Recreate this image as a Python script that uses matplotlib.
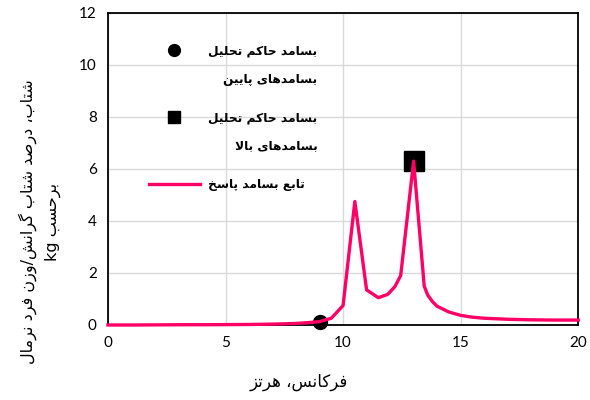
import re
import matplotlib
matplotlib.use("Agg")
import matplotlib.pyplot as plt
from matplotlib.lines import Line2D
from matplotlib.legend_handler import HandlerLine2D

# --- data ---
freq = [0, 1, 2, 3, 4, 5, 6, 7, 7.5, 8, 8.5, 9, 9.5, 10, 10.5, 11, 11.5, 11.9,
        12.2, 12.45, 13, 13.45, 13.6, 13.8, 14, 14.5, 15, 15.5, 16, 17, 18, 19, 20]
resp = [0, 0, 0.005, 0.01, 0.01, 0.015, 0.02, 0.035, 0.045, 0.06, 0.09, 0.13, 0.26,
        0.75, 4.75, 1.35, 1.05, 1.18, 1.47, 1.9, 6.3, 1.5, 1.15, 0.9, 0.72, 0.5,
        0.37, 0.3, 0.26, 0.22, 0.2, 0.19, 0.19]
low_f, low_v = [9], [0.1]
high_f, high_v = [13], [6.3]

lbl_low = ["بسامد حاکم تحلیل", "بسامدهای پایین"]
lbl_high = ["بسامد حاکم تحلیل", "بسامدهای بالا"]
lbl_resp = ["تابع بسامد پاسخ"]
xlabel = ["فرکانس، هرتز"]
ylabel = ["شتاب، درصد شتاب گرانش/وزن فرد نرمال", "برحسب kg"]

# --- tiny arabic/persian shaper (matplotlib 3.10 has no shaping) ---
DUAL = {'ب': 0xFE8F, 'پ': 0xFB56, 'ت': 0xFE95, 'ح': 0xFEA1, 'خ': 0xFEA5,
        'س': 0xFEB1, 'ش': 0xFEB5, 'ص': 0xFEB9, 'ع': 0xFEC9, 'ف': 0xFED1,
        'ک': 0xFB8E, 'گ': 0xFB92, 'ل': 0xFEDD, 'م': 0xFEE1, 'ن': 0xFEE5,
        'ه': 0xFEE9, 'ی': 0xFBFC}
RIGHT = {'ا': 0xFE8D, 'د': 0xFEA9, 'ر': 0xFEAD, 'ز': 0xFEAF, 'و': 0xFEED}


def shape(s):
    out = []
    i = 0
    while i < len(s):
        c = s[i]
        prev = s[i - 1] if i > 0 else ''
        pj = prev in DUAL
        if c == 'ل' and i + 1 < len(s) and s[i + 1] == 'ا':
            out.append(chr(0xFEFC if pj else 0xFEFB))
            i += 2
            continue
        nxt = s[i + 1] if i + 1 < len(s) else ''
        if c in DUAL:
            nj = nxt in DUAL or nxt in RIGHT
            off = 3 if (pj and nj) else 1 if pj else 2 if nj else 0
            out.append(chr(DUAL[c] + off))
        elif c in RIGHT:
            out.append(chr(RIGHT[c] + (1 if pj else 0)))
        else:
            out.append(c)
        i += 1
    toks = re.findall(r'[A-Za-z0-9]+|.', ''.join(out))
    return ''.join(reversed(toks))


def fa(lines):
    return "\n".join(shape(l) for l in lines)


class RaisedMarker(HandlerLine2D):
    # keep the marker level with the first line of a two-line label
    def __init__(self, shift, **kw):
        super().__init__(**kw)
        self.shift = shift

    def create_artists(self, legend, orig_handle, xdescent, ydescent, width,
                       height, fontsize, trans):
        return super().create_artists(legend, orig_handle, xdescent,
                                      ydescent - 2 * self.shift, width, height,
                                      fontsize, trans)


pink = '#FF0066'
fig = plt.figure(figsize=(5.9, 4), dpi=100)
ax = fig.add_axes([0.183, 0.1875, 0.797, 0.78])

ax.plot(low_f, low_v, 'o', color='black', markersize=10, zorder=3, clip_on=False)
ax.plot(high_f, high_v, 's', color='black', markersize=14, zorder=3)
ax.plot(freq, resp, color=pink, lw=2.4, zorder=4, clip_on=False)

ax.set_xlim(0, 20)
ax.set_ylim(0, 12)
ax.set_xticks(range(0, 21, 5))
ax.set_yticks(range(0, 13, 2))
ax.grid(True, color='#d9d9d9', lw=1)
ax.set_axisbelow(True)
for sp in ax.spines.values():
    sp.set_color('black')
    sp.set_linewidth(1.3)
ax.tick_params(length=0, labelsize=11, pad=8)
for t in ax.get_xticklabels() + ax.get_yticklabels():
    t.set_family('Lato')

ax.set_xlabel(fa(xlabel), fontsize=12, family='DejaVu Sans')
ax.xaxis.set_label_coords(0.406, -0.155)
ax.set_ylabel(fa(ylabel), fontsize=11.5, family='DejaVu Sans', linespacing=1.6)
ax.yaxis.set_label_coords(-0.10, 0.33)

h_low = Line2D([], [], ls='', marker='o', color='black', markersize=8.5)
h_high = Line2D([], [], ls='', marker='s', color='black', markersize=8.5)
h_resp = Line2D([], [], color=pink, lw=2.4)
leg = ax.legend([h_low, h_high, h_resp],
                [fa(lbl_low), fa(lbl_high), fa(lbl_resp)],
                loc='upper left', bbox_to_anchor=(0.063, 0.934), frameon=False,
                prop={'family': 'DejaVu Sans', 'weight': 'bold', 'size': 8.8},
                handlelength=4.2, handletextpad=0.7, labelspacing=2.1,
                handler_map={h_low: RaisedMarker(11.5), h_high: RaisedMarker(11.5)})
for t in leg.get_texts():
    t.set_multialignment('right')
    t.set_linespacing(2.5)

fig.savefig('out.png', dpi=100)
